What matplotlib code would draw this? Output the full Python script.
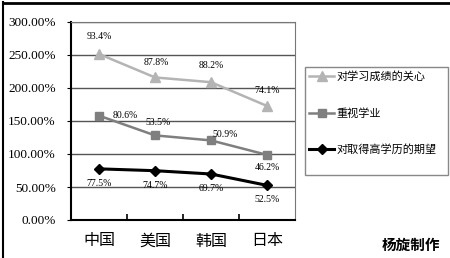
import numpy as np
import matplotlib.pyplot as plt
from matplotlib.lines import Line2D
from matplotlib.patches import Rectangle

plt.rcParams['font.family'] = ['Noto Sans CJK SC', 'DejaVu Sans']

countries = ['中国', '美国', '韩国', '日本']
concern = [93.4, 87.8, 88.2, 74.1]      # 对学习成绩的关心
study = [80.6, 53.5, 50.9, 46.2]        # 重视学业
degree = [77.5, 74.7, 69.7, 52.5]       # 对取得高学历的期望
yticks = [0, 50, 100, 150, 200, 250, 300]

x = np.arange(len(countries))
s1 = np.array(degree)
s2 = s1 + np.array(study)
s3 = s2 + np.array(concern)

fig = plt.figure(figsize=(4.5, 2.58), dpi=100)
ax = fig.add_axes([71/450, 1-220/258, 224/450, 198/258])
ax.set_facecolor('white')

ax.plot(x, s3, color='#b4b4b4', lw=1.8, marker='^', ms=7, label='对学习成绩的关心')
ax.plot(x, s2, color='#7f7f7f', lw=1.8, marker='s', ms=6, label='重视学业')
ax.plot(x, s1, color='black', lw=2.2, marker='D', ms=5, label='对取得高学历的期望')

ax.set_xlim(-0.5, 3.5)
ax.set_ylim(0, 300)
ax.set_yticks(yticks)
ax.set_yticklabels(['%.2f%%' % v for v in yticks], family='Liberation Serif', fontsize=9.5)
ax.yaxis.grid(True, color='#555555', lw=1)
ax.set_axisbelow(True)
ax.set_xticks(x)
ax.set_xticklabels(countries, fontsize=11.5)
ax.set_xticks([0.5, 1.5, 2.5], minor=True)
ax.tick_params(axis='x', which='major', length=0, pad=9)
ax.tick_params(axis='x', which='minor', direction='in', length=4, width=1.2)
ax.tick_params(axis='y', direction='out', length=3, pad=8)
for side in ['top', 'right']:
    ax.spines[side].set_color('#777777')
for side in ['left', 'bottom']:
    ax.spines[side].set_color('black')
    ax.spines[side].set_linewidth(1.5)

lab = dict(family='Liberation Serif', fontsize=7, ha='center', va='center')
off3 = [(0, 12.5), (1, 11), (0, 12), (0, 11)]
off2 = [(19, 0), (2, 9), (10, 4), (0, -9)]
for i in range(4):
    ax.annotate('%.1f%%' % concern[i], (x[i], s3[i]), xytext=off3[i],
                textcoords='offset points', **lab)
    ax.annotate('%.1f%%' % study[i], (x[i], s2[i]), xytext=off2[i],
                textcoords='offset points', **lab)
    ax.annotate('%.1f%%' % degree[i], (x[i], s1[i]), xytext=(0, -10.5),
                textcoords='offset points', **lab)

# legend frame drawn separately, entries sit near its top
fig.add_artist(Rectangle((305/450, 1-175/258), 143/450, 108/258, transform=fig.transFigure,
                         fill=False, edgecolor='#888888', lw=1))
fig.legend(loc='upper left', bbox_to_anchor=(305/450, 1-67/258),
           borderaxespad=0, fontsize=8, labelspacing=2.3,
           handlelength=2.2, handletextpad=0.2, frameon=False, borderpad=0.4)

fig.text(440/450, 1-245/258, '杨旋制作', fontsize=10.5, fontweight='bold',
         ha='right', va='center')

fig.add_artist(Line2D([3/450, 3/450], [0, 1-2/258], color='black', lw=1.5,
                      transform=fig.transFigure))
fig.add_artist(Line2D([3/450, 1], [1-2.5/258, 1-2.5/258], color='black', lw=2,
                      transform=fig.transFigure))

fig.savefig('out.png', dpi=100)
